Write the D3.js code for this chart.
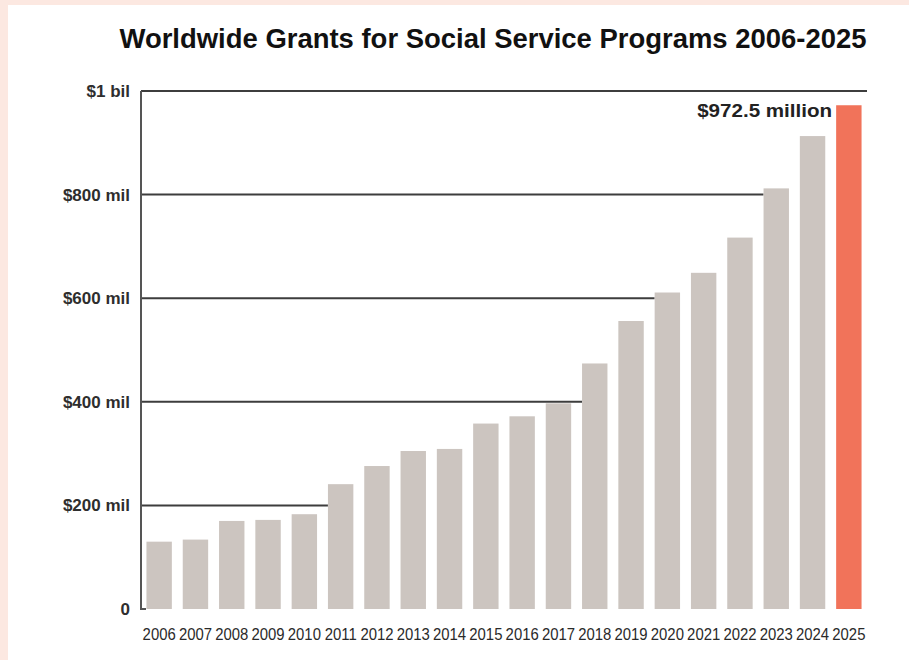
<!DOCTYPE html>
<html>
<head>
<meta charset="utf-8">
<script src="https://cdn.jsdelivr.net/npm/d3@7"></script>
<style>
  html, body { margin: 0; padding: 0; background: #fce8e1; }
  svg { display: block; }
</style>
</head>
<body>
<svg id="chart" width="909" height="660"></svg>
<script>
const years = ["2006", "2007", "2008", "2009", "2010", "2011", "2012", "2013", "2014", "2015",
               "2016", "2017", "2018", "2019", "2020", "2021", "2022", "2023", "2024", "2025"];
// grants in millions of dollars
const grants = [130, 134, 170, 172, 183, 241, 276, 305, 309, 358,
                372, 397, 474, 556, 611, 649, 717, 812, 913, 972.5];
const tickValues = [0, 200, 400, 600, 800, 1000];
const tickLabels = ["0", "$200 mil", "$400 mil", "$600 mil", "$800 mil", "$1 bil"];
const highlightYear = "2025";
const highlightLabel = "$972.5 million";
const title = "Worldwide Grants for Social Service Programs 2006-2025";

const svg = d3.select("#chart");
const W = 909, H = 660;
const plotL = 141, plotR = 867, plotT = 91, plotB = 609;
const FONT = "'Liberation Sans', Arial, sans-serif";

// squeeze text horizontally to get the condensed look of the original
function condense(sel, k) {
    sel.each(function () {
        const w = this.getComputedTextLength();
        d3.select(this).attr("textLength", w * k).attr("lengthAdjust", "spacingAndGlyphs");
    });
}

// white panel over the pink backdrop
svg.append("rect").attr("x", 8).attr("y", 5).attr("width", W - 8).attr("height", H - 5).attr("fill", "#fff");

const x = d3.scaleBand().domain(years).range([plotL, plotR]).paddingInner(0.3).paddingOuter(0.15);
const y = d3.scaleLinear().domain([0, 1000]).range([plotB, plotT]);

// title
svg.append("text")
    .attr("x", 493).attr("y", 48)
    .attr("text-anchor", "middle")
    .attr("font-family", FONT)
    .attr("font-weight", "bold")
    .attr("font-size", 27)
    .attr("fill", "#111")
    .text(title)
    .attr("textLength", 747).attr("lengthAdjust", "spacingAndGlyphs");

// gridlines stop at the first bar that rises above them
const grid = svg.append("g");
tickValues.filter(v => v > 0).forEach(v => {
    const i = grants.findIndex(g => g > v);
    const x2 = i < 0 ? plotR : x(years[i]);
    grid.append("line")
        .attr("x1", plotL).attr("x2", x2)
        .attr("y1", y(v)).attr("y2", y(v))
        .attr("stroke", "#3d3d3d").attr("stroke-width", 2);
});

// bars
svg.append("g").selectAll("rect")
    .data(years.map((yr, i) => ({ yr, v: grants[i] })))
    .enter().append("rect")
    .attr("x", d => x(d.yr))
    .attr("width", x.bandwidth())
    .attr("y", d => y(d.v))
    .attr("height", d => y(0) - y(d.v))
    .attr("fill", d => d.yr === highlightYear ? "#f1735a" : "#ccc5c0");

// y axis line
svg.append("path")
    .attr("d", `M${plotL},${y(1000)}V${y(0)}h5`)
    .attr("fill", "none").attr("stroke", "#555").attr("stroke-width", 2);

// y axis labels
const yAxis = d3.axisLeft(y).tickValues(tickValues)
    .tickFormat((d, i) => tickLabels[i]).tickSize(0).tickPadding(11);
const yg = svg.append("g").attr("transform", `translate(${plotL},0)`).call(yAxis);
yg.select(".domain").remove();
yg.selectAll("text")
    .attr("font-family", FONT)
    .attr("font-size", 17)
    .attr("font-weight", "bold")
    .attr("fill", "#2e2e2e");

// x axis labels
const xAxis = d3.axisBottom(x).tickSize(0).tickPadding(20);
const xg = svg.append("g").attr("transform", `translate(0,${plotB})`).call(xAxis);
xg.select(".domain").remove();
xg.selectAll("text")
    .attr("font-family", FONT)
    .attr("font-size", 16)
    .attr("fill", "#2a2a2a")
    .call(condense, 0.93);

// annotation for the last year
const hi = years.indexOf(highlightYear);
svg.append("text")
    .attr("x", x(highlightYear) - 4)
    .attr("y", y(grants[hi]) + 12)
    .attr("text-anchor", "end")
    .attr("font-family", FONT)
    .attr("font-weight", "bold")
    .attr("font-size", 19)
    .attr("fill", "#222")
    .text(highlightLabel)
    .attr("textLength", 135).attr("lengthAdjust", "spacingAndGlyphs");
</script>
</body>
</html>
